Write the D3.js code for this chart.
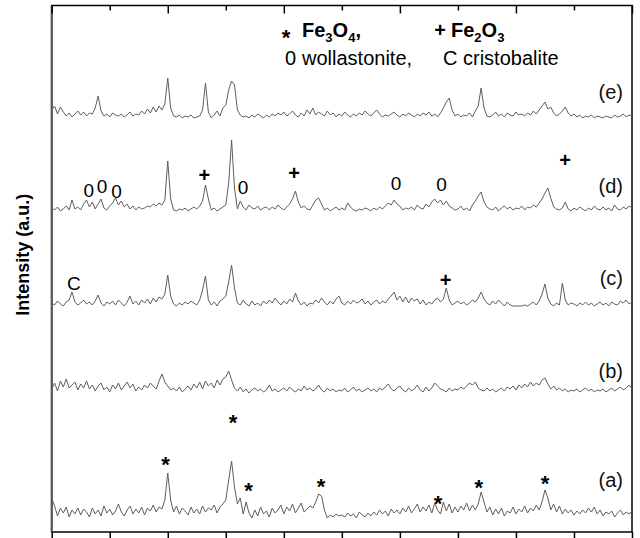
<!DOCTYPE html>
<html><head><meta charset="utf-8">
<script src="https://cdn.jsdelivr.net/npm/d3@7/dist/d3.min.js"></script>
<style>body{margin:0;background:#fff} svg{display:block}</style>
</head><body><svg id="c" width="640" height="538"></svg>
<script>
// ---- data ----
const twoThetaStart = 10, twoThetaStep = 0.25;
const seriesNames = ["(a)","(b)","(c)","(d)","(e)"];
const seriesOffsets = [10,135,224,319,412];
const labelLevels = [42,26,30,27,28];
const seriesA = [24,16,6,14,9,15,5,12,8,14, 7,13,10,5,14,8,12,6,16,9, 13,7,11,18,10,6,12,16,8,13, 9,15,7,14,11,17,10,15,13,22,
 49,22,10,16,8,14,11,7,15,9, 13,8,16,10,14,12,17,9,15,18, 22,42,61,35,18,24,8,20,9,4, 12,6,15,8,11,5,14,9,12,17,
 8,15,11,18,9,14,19,10,13,16, 14,20,28,26,12,4,7,5,8,6, 7,5,9,6,8,4,10,7,5,9, 6,10,7,12,8,11,6,13,9,12,
 8,14,10,16,9,13,18,10,15,11, 17,9,19,12,8,20,11,18,9,15, 10,16,12,19,11,17,12,18,30,20, 10,15,7,13,8,14,6,11,9,15,
 8,13,10,16,9,14,11,17,12,20, 32,24,12,18,10,16,8,13,9,12, 7,11,8,12,9,14,10,15,8,12, 6,10,8,11,5,9,12,7,10,8, 11];
const seriesB = [8,14,6,16,10,18,9,12,15,7, 13,9,16,8,12,6,11,14,7,10, 5,12,8,14,7,11,15,9,13,6, 10,7,12,9,14,11,8,16,23,15,
 11,7,9,6,10,5,8,11,7,13, 9,15,8,16,11,14,9,17,12,18, 20,26,17,9,6,10,5,8,4,7, 9,6,8,5,7,12,6,8,5,7,
 9,6,10,7,5,8,6,11,7,9, 6,8,12,7,5,9,6,8,5,7, 6,9,5,7,10,6,8,5,7,9, 6,8,5,9,7,10,13,8,6,9,
 11,7,5,9,6,8,12,7,5,10, 6,9,14,11,8,7,5,9,6,8, 7,10,8,11,14,12,15,9,7,6, 9,6,8,5,7,9,6,10,8,11,
 7,12,9,13,10,15,11,14,12,17, 19,13,8,11,7,9,6,8,5,7, 6,8,5,7,9,6,8,5,7,6, 8,5,7,9,6,8,10,7,9,12, 8];
const seriesC = [5,3,7,4,2,6,8,16,6,3, 5,8,4,6,3,7,13,5,2,6, 4,7,3,8,5,2,6,12,4,7, 3,8,5,9,4,10,6,11,9,14,
 33,12,4,2,5,3,6,4,7,5, 3,8,18,32,8,3,6,2,7,9, 12,26,43,20,5,3,8,4,2,7, 3,5,2,7,4,8,5,10,6,3,
 7,4,9,6,15,7,3,6,2,5, 4,8,5,10,6,3,7,4,9,12, 5,3,7,4,8,5,6,9,4,7, 3,6,8,4,7,5,9,12,16,8,
 12,6,11,5,10,7,9,4,8,3, 6,4,8,10,6,9,20,8,3,5, 7,4,6,3,5,8,6,10,16,9, 5,3,7,4,8,5,2,6,3,2,
 2,2,2,3,2,4,6,3,7,14, 24,10,4,2,5,3,25,8,3,5, 4,2,5,3,6,3,5,2,4,6, 3,5,2,6,4,3,7,5,8,4, 6];
const seriesD = [5,3,6,2,4,7,3,13,4,6, 3,9,13,6,11,4,9,14,5,3, 7,10,15,8,12,6,9,4,7,3, 6,4,5,7,6,9,7,10,8,13,
 52,14,3,2,4,3,5,2,4,6, 4,7,12,28,14,3,5,2,4,6, 8,30,73,25,4,12,6,3,8,5, 4,7,3,5,6,3,6,4,8,5,
 3,6,9,14,22,11,5,7,4,3, 8,13,15,9,3,5,2,4,6,3, 5,3,10,6,3,2,4,3,5,4, 2,5,3,6,4,7,10,8,13,9,
 7,3,5,4,6,3,8,5,4,9, 6,11,14,10,13,8,12,7,5,3, 4,7,3,5,2,8,12,17,21,11, 6,4,3,6,2,5,7,4,6,3,
 5,4,7,3,6,5,8,6,10,14, 20,25,15,6,4,3,5,11,4,2, 5,3,6,4,2,5,3,7,4,3, 6,3,5,2,8,4,3,6,4,7, 5];
const seriesE = [10,14,6,13,8,4,7,3,6,9, 5,8,4,7,6,12,24,9,4,6, 3,7,5,4,6,3,5,8,4,6, 5,9,6,11,7,13,8,14,10,16,
 42,12,4,3,5,2,4,3,5,2, 3,4,10,37,8,2,5,9,4,12, 15,30,39,35,10,5,3,4,2,5, 3,6,4,2,5,3,6,4,7,5,
 8,4,6,9,5,3,7,4,10,6, 12,5,8,6,4,9,5,7,3,6, 4,8,5,3,6,4,7,5,9,6, 4,7,10,6,3,5,4,6,8,5,
 3,6,4,7,5,3,6,4,7,5, 8,4,6,3,7,12,18,22,10,4, 6,3,5,4,7,3,9,14,32,12, 4,3,5,8,4,6,3,7,5,4,
 8,5,6,4,7,5,9,6,10,14, 18,11,13,7,4,6,9,13,7,4, 6,3,5,2,4,3,5,2,4,3, 2,4,3,2,5,3,4,6,3,5, 4];
const allSeries = [seriesA, seriesB, seriesC, seriesD, seriesE];
const majorTicks = [10,20,30,40,50,60];
const minorTicks = [15,25,35,45,55];
// phase markers [2theta, level]
const starMarks = [[19.81,74],[25.62,116],[26.97,48],[33.2,52],[43.28,35],[46.8,51],[52.5,55]];
const plusMarks = [[23.16,357],[30.88,359],[54.23,372],[43.94,252]];
const zeroMarks = [[13.2,342],[14.33,346],[15.58,341],[26.48,345],[39.67,349],[43.59,348]];
const cMarks = [[11.92,249]];
const yLabel = "Intensity (a.u.)";

// ---- drawing ----
const svg = d3.select("#c");
const L = 51.7, R = 632, T = 5.5, B = 532;
const x = d3.scaleLinear().domain([10,60]).range([L,R]);
const y = d3.scaleLinear().domain([0,526.5]).range([B,T]);
const font = "'Liberation Sans', Arial, sans-serif";

// frame
svg.append("rect").attr("x",L).attr("y",T).attr("width",R-L).attr("height",B-T)
  .attr("fill","none").attr("stroke","#000").attr("stroke-width",1.5);
svg.append("line").attr("x1",L).attr("x2",L).attr("y1",T).attr("y2",B)
  .attr("stroke","#555").attr("stroke-width",2);

function tickAxis(axisFn, pos, vals, size){
  const g = svg.append("g").attr("transform",`translate(0,${pos})`)
    .call(axisFn(x).tickValues(vals).tickSize(size).tickFormat(""));
  g.select(".domain").remove();
  g.selectAll(".tick line").attr("stroke","#000").attr("stroke-width",1.5);
}
tickAxis(d3.axisTop, T, majorTicks, -8);
tickAxis(d3.axisTop, T, minorTicks, -5);
tickAxis(d3.axisBottom, B, majorTicks, 8);
tickAxis(d3.axisBottom, B, minorTicks, 6);

// traces
const line = d3.line()
  .x((d,i)=>x(twoThetaStart + i*twoThetaStep))
  .y(d=>y(d));
allSeries.forEach((s,k)=>{
  const off = seriesOffsets[k];
  svg.append("path").datum(s.map(v=>v+off))
    .attr("d",line).attr("fill","none")
    .attr("stroke","#5e5e5e").attr("stroke-width",1).attr("stroke-linejoin","round");
  svg.append("text").attr("x",R-9).attr("y",y(off+labelLevels[k]))
    .attr("dy","0.36em").attr("text-anchor","end")
    .attr("font-family",font).attr("font-size",20).attr("fill","#111")
    .text(seriesNames[k]);
});

function marks(arr, sym, dy, weight, size){
  svg.append("g").selectAll("text").data(arr).join("text")
    .attr("x",d=>x(d[0])).attr("y",d=>y(d[1])).attr("dy",dy)
    .attr("text-anchor","middle").attr("font-family",font)
    .attr("font-weight",weight).attr("font-size",size).attr("fill","#000")
    .text(sym);
}
marks(starMarks,"*","0.62em","bold",22);
marks(plusMarks,"+","0.35em","bold",20);
marks(zeroMarks,"0","0.36em","normal",19);
marks(cMarks,"C","0.36em","normal",19);

// legend
const lg = svg.append("g").attr("font-family",font).attr("fill","#000");
lg.append("text").attr("x",286).attr("y",45).attr("font-weight","bold").attr("font-size",22)
  .attr("text-anchor","middle").text("*");
const t1 = lg.append("text").attr("x",302).attr("y",37).attr("font-weight","bold").attr("font-size",20);
t1.append("tspan").text("Fe");
t1.append("tspan").attr("dy",5).attr("font-size",13).text("3");
t1.append("tspan").attr("dy",-5).text("O");
t1.append("tspan").attr("dy",5).attr("font-size",13).text("4");
t1.append("tspan").attr("dy",-5).text(",");
lg.append("text").attr("x",440).attr("y",37).attr("font-weight","bold").attr("font-size",20)
  .attr("text-anchor","middle").text("+");
const t2 = lg.append("text").attr("x",451).attr("y",37).attr("font-weight","bold").attr("font-size",20);
t2.append("tspan").text("Fe");
t2.append("tspan").attr("dy",5).attr("font-size",13).text("2");
t2.append("tspan").attr("dy",-5).text("O");
t2.append("tspan").attr("dy",5).attr("font-size",13).text("3");
lg.append("text").attr("x",285).attr("y",65).attr("font-size",20).text("0");
lg.append("text").attr("x",302).attr("y",65).attr("font-size",20).text("wollastonite,");
lg.append("text").attr("x",443).attr("y",65).attr("font-size",20).text("C cristobalite");

// y label
svg.append("text").attr("transform",`translate(29,${(T+B)/2 - 14}) rotate(-90)`)
  .attr("text-anchor","middle").attr("font-family",font).attr("font-weight","bold")
  .attr("font-size",18).attr("fill","#000").text(yLabel);
</script></body></html>
